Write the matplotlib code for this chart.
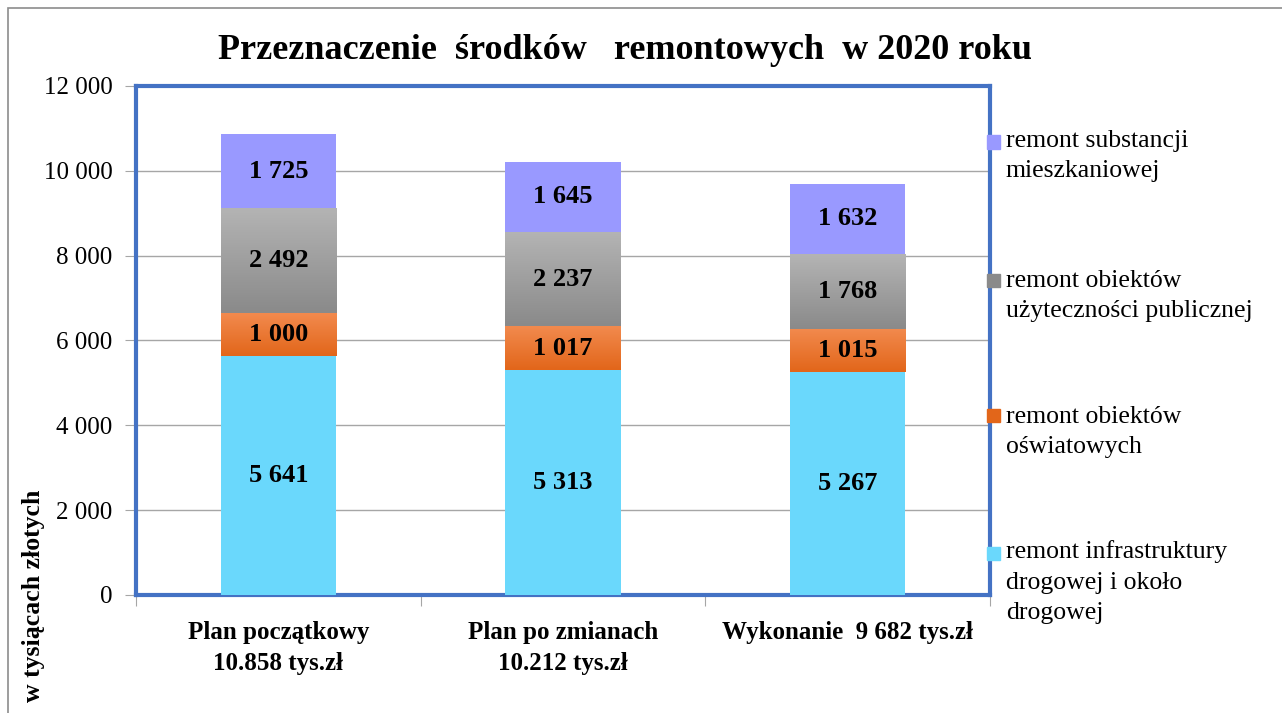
import matplotlib
matplotlib.use('Agg')
import matplotlib.pyplot as plt
import numpy as np
from matplotlib.patches import Rectangle

plt.rcParams['font.family'] = ['Liberation Serif', 'DejaVu Serif']

categories = ['Plan początkowy\n10.858 tys.zł', 'Plan po zmianach\n10.212 tys.zł', 'Wykonanie  9 682 tys.zł']
infra = [5641, 5313, 5267]
oswiat = [1000, 1017, 1015]
uzyt = [2492, 2237, 1768]
mieszk = [1725, 1645, 1632]
series_names = ['remont infrastruktury\ndrogowej i około\ndrogowej',
                'remont obiektów\noświatowych',
                'remont obiektów\nużyteczności publicznej',
                'remont substancji\nmieszkaniowej']
yticks = [0, 2000, 4000, 6000, 8000, 10000, 12000]

# colours: (top, bottom) of the gradient
colors = [('#6AD8FC', '#6AD8FC'),
          ('#F28A4E', '#E2661A'),
          ('#B4B4B4', '#8A8A8A'),
          ('#9999FF', '#9999FF')]

fig = plt.figure(figsize=(12.82, 7.13), dpi=100)
ax = fig.add_axes([0.1061, 0.1655, 0.6661, 0.7139])

x = np.arange(len(categories))
w = 0.405
bottom = np.zeros(len(categories))
for vals, (ctop, cbot) in zip([infra, oswiat, uzyt, mieszk], colors):
    vals = np.array(vals)
    bars = ax.bar(x, vals, w, bottom=bottom, color=ctop, edgecolor='none', zorder=3)
    if ctop != cbot:
        grad = np.linspace(0, 1, 100).reshape(-1, 1)
        cmap = matplotlib.colors.LinearSegmentedColormap.from_list('g', [cbot, ctop])
        for b in bars:
            im = ax.imshow(grad, cmap=cmap, aspect='auto', origin='lower',
                           extent=[b.get_x(), b.get_x() + b.get_width(), b.get_y(), b.get_y() + b.get_height()],
                           zorder=3.5)
            im.set_clip_path(b)
    for xi, bi, v in zip(x, bottom, vals):
        ax.text(xi, bi + v / 2, f'{v:,}'.replace(',', ' '), ha='center', va='center',
                fontsize=19, fontweight='bold', zorder=5)
    bottom = bottom + vals

ax.set_xlim(-0.5, 2.5)
ax.set_ylim(0, 12000)
ax.set_yticks(yticks)
ax.set_yticklabels([f'{t:,}'.replace(',', ' ') for t in yticks], fontsize=18)
ax.yaxis.grid(True, color='#A6A6A6', linewidth=1, zorder=0)
ax.tick_params(axis='y', length=8, color='#A6A6A6', pad=9)

ax.set_xticks([-0.5, 0.5, 1.5, 2.5])
ax.set_xticklabels([])
ax.tick_params(axis='x', which='major', length=8, color='#A6A6A6', direction='out')
ax.set_xticks(x, minor=True)
ax.set_xticklabels(categories, minor=True, fontsize=18, fontweight='bold')
for lab in ax.get_xticklabels(minor=True):
    lab.set_linespacing(1.45)
ax.tick_params(axis='x', which='minor', length=0, pad=19)

for s in ax.spines.values():
    s.set_color('#4472C4')
    s.set_linewidth(3)

fig.text(0.4875, 0.929, 'Przeznaczenie  środków   remontowych  w 2020 roku',
         ha='center', va='center', fontsize=26, fontweight='bold')
fig.text(0.026, 0.313, 'w tysiącach złotych', rotation=90, ha='center', va='top',
         fontsize=18.5, fontweight='bold')

# legend, top entry first
sq_y = [553, 415, 280, 142]
base_y = [558, 423, 287, 147]
for name, (ctop, cbot), sy, by in zip(series_names, colors, sq_y, base_y):
    fig.patches.append(Rectangle((987 / 1282, 1 - (sy + 6.5) / 713), 13 / 1282, 13 / 713,
                                 transform=fig.transFigure, color=cbot if ctop != cbot else ctop,
                                 zorder=0))
    last_base = by + 30.5 * (name.count('\n'))
    fig.text(1006 / 1282, 1 - last_base / 713, name, ha='left', va='baseline', fontsize=18.5,
             linespacing=1.5)

# outer frame
fig.patches.append(Rectangle((8 / 1282, -0.01), 1.1, 1 - 8 / 713 + 0.01, transform=fig.transFigure,
                             fill=False, edgecolor='#8C8C8C', linewidth=1.2))

fig.savefig('out.png', dpi=100)
